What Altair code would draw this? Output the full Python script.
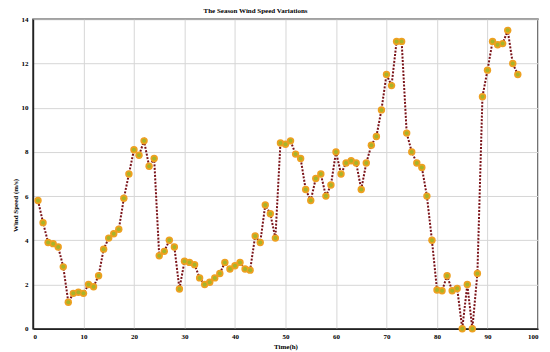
import altair as alt
import pandas as pd

hours = list(range(1, 97))
speed = [
    5.8, 4.8, 3.9, 3.85, 3.7, 2.8, 1.2, 1.6, 1.65, 1.6,
    2.0, 1.9, 2.4, 3.6, 4.1, 4.3, 4.5, 5.9, 7.0, 8.1,
    7.85, 8.5, 7.35, 7.7, 3.3, 3.5, 4.0, 3.7, 1.8, 3.05,
    3.0, 2.9, 2.3, 2.0, 2.1, 2.3, 2.5, 3.0, 2.7, 2.85,
    3.0, 2.7, 2.65, 4.2, 3.9, 5.6, 5.2, 4.1, 8.4, 8.35,
    8.5, 7.9, 7.7, 6.3, 5.8, 6.8, 7.0, 6.0, 6.5, 8.0,
    7.0, 7.5, 7.6, 7.5, 6.3, 7.5, 8.3, 8.7, 9.9, 11.5,
    11.0, 13.0, 13.0, 8.85, 8.0, 7.5, 7.3, 6.0, 4.0, 1.75,
    1.72, 2.4, 1.72, 1.82, 0.0, 2.0, 0.0, 2.5, 10.5, 11.7,
    13.0, 12.85, 12.9, 13.5, 12.0, 11.5,
]

df = pd.DataFrame({"t": hours, "v": speed})

font = "Liberation Serif"

x = alt.X("t:Q", title="Time(h)",
          scale=alt.Scale(domain=[0, 100], nice=False),
          axis=alt.Axis(values=list(range(0, 101, 10)), format="d"))
y = alt.Y("v:Q", title="Wind Speed (m/s)",
          scale=alt.Scale(domain=[0, 14], nice=False),
          axis=alt.Axis(values=list(range(0, 15, 2)), format="d", titleY=186))

base = alt.Chart(df).encode(x=x, y=y)

line = base.mark_line(color="#7a1218", strokeWidth=2, strokeDash=[2, 1.5])
outer = base.mark_circle(size=55, color="#eea020", opacity=1)
inner = base.mark_circle(size=16, color="#a8b428", opacity=1)

chart = alt.layer(line, outer, inner).properties(
    width=506, height=310,
    autosize=alt.AutoSizeParams(type="none"),
    padding={"left": 25, "top": 11, "right": 4, "bottom": 24},
    title=alt.TitleParams("The Season Wind Speed Variations", fontSize=7,
                          font=font, fontWeight="bold", color="#000000",
                          dx=-30, offset=1),
).configure_view(
    stroke="#444444", strokeWidth=1.5
).configure_axis(
    labelFont=font, labelFontSize=7, labelFontWeight="bold", labelColor="#000",
    titleFont=font, titleFontSize=7, titleFontWeight="bold", titleColor="#000",
    gridColor="#d6d6d6", gridWidth=1,
    domainColor="#222222", domainWidth=1.5,
    tickSize=0,
).configure_axisX(
    labelPadding=4, titlePadding=3
).configure_axisY(
    labelPadding=5, titlePadding=2
)

chart.save("out.html", embed_options={"renderer": "svg", "actions": False})
